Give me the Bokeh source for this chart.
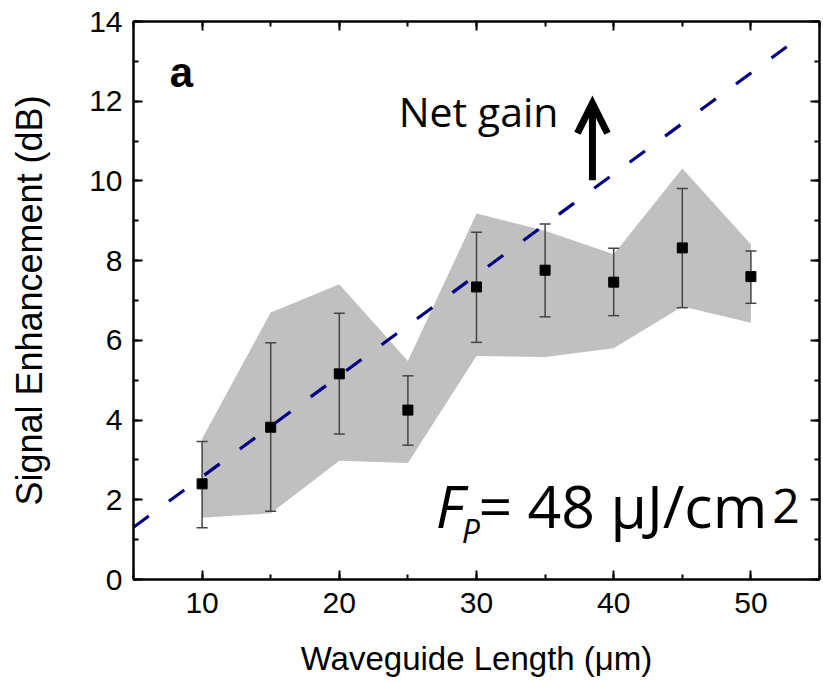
from bokeh.plotting import figure
from bokeh.models import (LinearAxis, SingleIntervalTicker, Label,
                          Arrow, OpenHead, ColumnDataSource, Range1d)
from bokeh.embed import file_html
from bokeh.resources import INLINE

# ---- data ----
lengths = [10, 15, 20, 25, 30, 35, 40, 45, 50]
enhancement = [2.40, 3.82, 5.16, 4.25, 7.34, 7.76, 7.46, 8.32, 7.60]
err_upper = [3.46, 5.94, 6.68, 5.11, 8.71, 8.92, 8.31, 9.81, 8.24]
err_lower = [1.30, 1.71, 3.65, 3.37, 5.95, 6.59, 6.62, 6.82, 6.93]
band_upper = [3.53, 6.70, 7.41, 5.48, 9.18, 8.75, 8.16, 10.31, 8.41]
band_lower = [1.55, 1.66, 2.98, 2.92, 5.61, 5.58, 5.80, 6.85, 6.44]
threshold_x = [5, 54.0]
threshold_y = [1.31, 13.72]

FONT = "Liberation Sans"
TEXT_FONT = "Open Sans"

p = figure(width=822, height=679, x_range=Range1d(5, 55), y_range=Range1d(0, 14),
           output_backend="svg", toolbar_location=None,
           min_border_left=133, min_border_right=3, min_border_top=21, min_border_bottom=99)
p.xgrid.visible = False
p.ygrid.visible = False
p.outline_line_color = "black"
p.outline_line_width = 2
p.background_fill_color = "white"
p.border_fill_color = "white"

src = ColumnDataSource(dict(x=lengths, y=enhancement, up=err_upper, lo=err_lower,
                            bu=band_upper, bl=band_lower))

p.varea(x="x", y1="bl", y2="bu", source=src, fill_color="#c0c0c0")
p.line(threshold_x, threshold_y, line_color="#000080", line_width=3.2, line_dash="19 25")

# error bars
EB = "#444444"
p.segment(x0="x", y0="lo", x1="x", y1="up", source=src, line_color=EB, line_width=1.5)
p.scatter("x", "up", source=src, marker="dash", size=11, line_color=EB, line_width=1.5)
p.scatter("x", "lo", source=src, marker="dash", size=11, line_color=EB, line_width=1.5)
p.scatter("x", "y", source=src, marker="square", size=10, fill_color="black", line_color="black")

def style_axis(ax, labels=True):
    ax.axis_line_width = 2
    ax.axis_line_color = "black"
    ax.major_tick_in = 9
    ax.major_tick_out = 0
    ax.minor_tick_in = 5
    ax.minor_tick_out = 0
    ax.major_tick_line_width = 2
    ax.minor_tick_line_width = 2
    ax.major_tick_line_color = "black"
    ax.minor_tick_line_color = "black"
    if labels:
        ax.major_label_text_font = FONT
        ax.major_label_text_font_size = "30px"
        ax.major_label_text_color = "black"
        ax.axis_label_text_font = FONT
        ax.axis_label_text_font_style = "normal"
        ax.axis_label_text_color = "black"
    else:
        ax.major_label_text_font_size = "0px"
        ax.major_label_standoff = 0

p.xaxis.ticker = SingleIntervalTicker(interval=10, num_minor_ticks=2)
p.yaxis.ticker = SingleIntervalTicker(interval=2, num_minor_ticks=2)
p.xaxis.axis_label = "Waveguide Length (\u03bcm)"
p.yaxis.axis_label = "Signal Enhancement (dB)"
style_axis(p.xaxis[0])
style_axis(p.yaxis[0])
p.xaxis.axis_label_text_font_size = "33px"
p.yaxis.axis_label_text_font_size = "36px"
p.xaxis.major_label_standoff = 13
p.yaxis.major_label_standoff = 11
p.xaxis.axis_label_standoff = 24
p.yaxis.axis_label_standoff = 36

top = LinearAxis(ticker=SingleIntervalTicker(interval=10, num_minor_ticks=2))
right = LinearAxis(ticker=SingleIntervalTicker(interval=2, num_minor_ticks=2))
style_axis(top, labels=False)
style_axis(right, labels=False)
p.add_layout(top, "above")
p.add_layout(right, "right")

# annotations
def lab(x, y, text, size, style="normal", font=TEXT_FONT):
    p.add_layout(Label(x=x, y=y, text=text, text_font=font, text_font_style=style,
                       text_font_size=size, text_color="black", text_baseline="alphabetic",
                       text_align="left"))

lab(7.65, 12.73, "a", "42px", "bold", FONT)
lab(24.33, 11.75, "Net gain", "41px")
p.add_layout(Arrow(x_start=38.45, y_start=10.02, x_end=38.45, y_end=11.95,
                   line_width=7, line_color="black",
                   end=OpenHead(size=30, line_width=7, line_color="black", line_join="miter")))

lab(27.03, 1.87, "F", "59px", "italic")
lab(28.93, 1.24, "P", "32px", "italic")
lab(30.15, 1.87, "= 48 \u03bcJ/cm", "59px")
lab(51.55, 1.85, "2", "48px")

open("out.html", "w").write(file_html(p, INLINE))
